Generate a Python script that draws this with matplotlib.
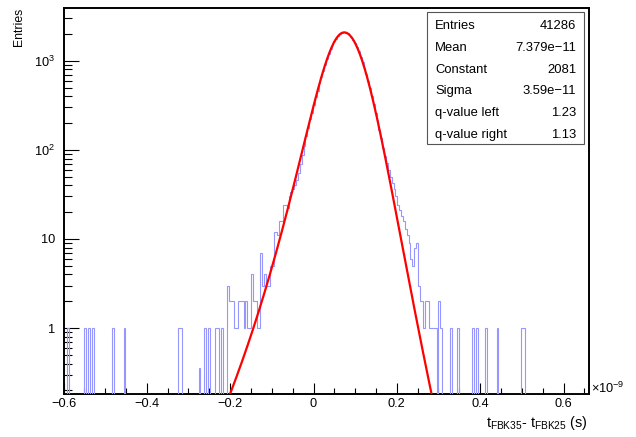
import numpy as np
import matplotlib
matplotlib.use("Agg")
import matplotlib.pyplot as plt
from matplotlib.patches import Rectangle
from matplotlib.ticker import FixedLocator, MultipleLocator, LogLocator, NullFormatter

plt.rcParams["font.family"] = ["Liberation Sans", "DejaVu Sans"]
plt.rcParams["mathtext.fontset"] = "custom"
plt.rcParams["mathtext.rm"] = "Liberation Sans"
plt.rcParams["mathtext.it"] = "Liberation Sans:italic"

# histogram binning (x in units of 1e-9 s)
X_LO = -0.6
X_HI = 0.66

# bin contents, 280 bins
counts = [
    0, 0, 1, 0, 0, 0, 0, 0, 0, 0, 0, 1, 0, 1, 0, 1, 0, 0, 0, 0,
    0, 0, 0, 0, 0, 0, 1, 0, 0, 0, 0, 0, 1, 0, 0, 0, 0, 0, 0, 0,
    0, 0, 0, 0, 0, 0, 0, 0, 0, 0, 0, 0, 0, 0, 0, 0, 0, 0, 0, 0,
    0, 1, 1, 0, 0, 0, 0, 0, 0, 0, 0, 0, 0.36, 0, 0, 1, 0, 1, 0, 0,
    0, 1, 1, 0, 1, 0, 0, 3, 2, 2, 2, 1, 1, 2, 2, 2, 1, 2, 1, 1,
    4, 2, 2, 1, 1, 7, 3, 4, 3, 3, 5, 5, 12, 12, 11, 16, 16, 24, 24, 22,
    30, 34, 36, 40, 46, 55, 70, 88, 110, 143,
    178, 221, 262, 318, 389, 458, 556, 649, 771, 893,
    1041, 1179, 1346, 1488, 1650, 1776, 1904, 1985, 2058, 2076,
    2069, 2031, 1948, 1853, 1718, 1585, 1422, 1279, 1112, 975,
    828, 709, 586, 493, 398, 331, 262, 216, 168, 137,
    104, 86, 72, 60, 50, 42, 36, 30, 24, 21,
    18, 16, 13, 11, 9, 6, 5, 8, 9, 3, 2, 2, 1, 2, 2, 1, 1, 1, 1, 0,
    2, 1, 0, 0, 0, 0, 1, 0, 0, 0, 1, 0, 0, 0, 0, 0, 0, 0, 1, 0,
    1, 0, 0, 0, 0, 1, 0, 0, 0, 0, 0, 1, 0, 0, 0, 0, 0, 0, 0, 0,
    0, 0, 0, 0, 1, 1, 0, 0, 0, 0, 0, 0, 0, 0, 0, 0, 0, 0, 0, 0,
    0, 0, 0, 0, 0, 0, 0, 0, 0, 0, 0, 0, 0, 0, 0, 0, 0, 0, 0, 0,
]

# fit result (asymmetric q-gaussian), as printed in the stats box
entries = 41286
fit_mean = 7.379e-11
fit_constant = 2081
fit_sigma = 3.59e-11
q_left = 1.23
q_right = 1.13

x_ticks = [-0.6, -0.4, -0.2, 0.0, 0.2, 0.4, 0.6]
y_ticks = [1, 10, 100, 1000]
y_tick_labels = ["1", "10", "$10^{2}$", "$10^{3}$"]

Y_MIN = 0.1846
Y_MAX = 3908


def q_gauss(x, const, mean, sigma, q):
    beta = 1.0 / ((3.0 - q) * sigma ** 2)
    base = 1.0 + (q - 1.0) * beta * (x - mean) ** 2
    return const * base ** (-1.0 / (q - 1.0))


def sci(v, digits):
    return f"{v:.{digits}g}".replace("-", "\u2212")


W, H = 636, 437
fig = plt.figure(figsize=(W / 100, H / 100), dpi=100)
ax = fig.add_axes([63.5 / W, 1 - 393.5 / H, 525 / W, 385.5 / H])

# histogram outline
vals = np.array(counts, dtype=float)
edges = np.linspace(X_LO, X_HI, len(vals) + 1)
plot_vals = np.where(vals > 0, vals, Y_MIN)
ax.stairs(plot_vals, edges, baseline=Y_MIN, color="#9696ff", lw=0.8,
          zorder=2.6)

# fit curve
mean_ns = fit_mean * 1e9
sigma_ns = fit_sigma * 1e9
xs = np.linspace(-0.35, 0.4, 2000)
ys = np.where(xs < mean_ns,
              q_gauss(xs, fit_constant, mean_ns, sigma_ns, q_left),
              q_gauss(xs, fit_constant, mean_ns, sigma_ns, q_right))
ax.plot(xs, ys, color="#ff0000", lw=1.6, zorder=3)

# axes
ax.set_xlim(X_LO, X_HI)
ax.set_yscale("log")
ax.set_ylim(Y_MIN, Y_MAX)

ax.xaxis.set_major_locator(FixedLocator(x_ticks))
ax.xaxis.set_minor_locator(MultipleLocator(0.05))
ax.set_xticklabels([f"{t:g}".replace("-", "\u2212") for t in x_ticks])
ax.yaxis.set_major_locator(FixedLocator(y_ticks))
ax.set_yticklabels(y_tick_labels)
ax.yaxis.set_minor_locator(LogLocator(base=10, subs=np.arange(2, 10), numticks=30))
ax.yaxis.set_minor_formatter(NullFormatter())

ax.tick_params(which="both", direction="in", top=False, right=False,
               labelsize=9.2, width=0.8)
ax.tick_params(axis="x", which="major", length=8, pad=3.0)
ax.tick_params(axis="x", which="minor", length=4.3)
ax.tick_params(axis="y", which="major", length=11, pad=6)
ax.tick_params(axis="y", which="minor", length=5.5)
for s in ax.spines.values():
    s.set_linewidth(1.4)

# titles
fig.text(19 / W, 1 - 8 / H, "Entries", rotation=90, ha="center", va="top",
         fontsize=8.8)
fig.text(587 / W, 1 - 414 / H,
         r"$\mathregular{t_{FBK35}}$- $\mathregular{t_{FBK25}}$ (s)",
         ha="right", va="top", fontsize=10.4)
fig.text(591 / W, 1 - 393 / H, "\u00d710$^{-9}$", ha="left", va="baseline",
         fontsize=9.2)

# stats box
fig.patches.append(Rectangle((426.7 / W, 1 - 144.3 / H), 157.6 / W, 132 / H,
                             transform=fig.transFigure, facecolor="white",
                             edgecolor="#555555", lw=0.8, zorder=5))
stat_names = ["Entries", "Mean", "Constant", "Sigma", "q-value left",
              "q-value right"]
stat_texts = [str(entries), sci(fit_mean, 4), str(fit_constant),
              sci(fit_sigma, 3), f"{q_left:.2f}", f"{q_right:.2f}"]
for i, (name, txt) in enumerate(zip(stat_names, stat_texts)):
    y = 1 - (29.0 + 21.8 * i) / H
    fig.text(435 / W, y, name, ha="left", va="baseline", fontsize=9.4,
             zorder=6)
    fig.text(576 / W, y, txt, ha="right", va="baseline", fontsize=9.4,
             zorder=6)

fig.savefig("out.png", dpi=100)
